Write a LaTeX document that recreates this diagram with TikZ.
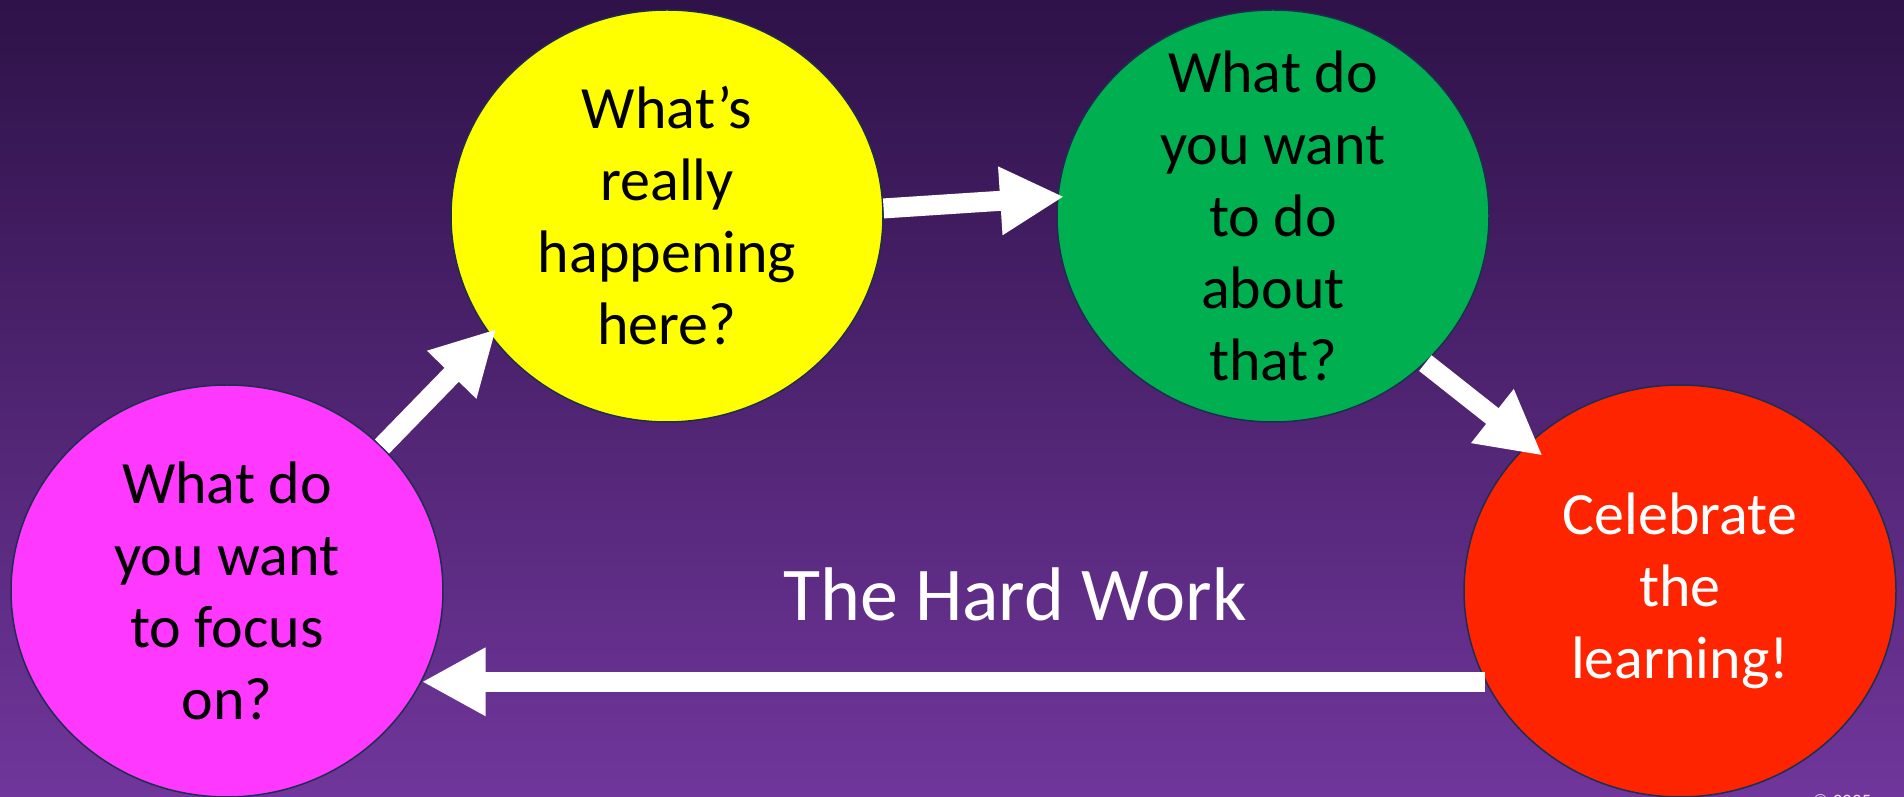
\documentclass[tikz,border=0pt]{standalone}
\usepackage{fontspec}
\setmainfont{Carlito}
\usetikzlibrary{shapes.geometric,arrows.meta}
\definecolor{bgtop}{RGB}{46,18,72}
\definecolor{bgbot}{RGB}{112,54,155}
\definecolor{cmag}{RGB}{255,56,255}
\definecolor{cyel}{RGB}{255,255,0}
\definecolor{cgrn}{RGB}{0,176,80}
\definecolor{cred}{RGB}{255,36,0}
\definecolor{rim}{RGB}{30,45,80}
\tikzset{
  bubble/.style={ellipse, draw=rim, line width=1.5pt, minimum width=432pt, minimum height=412pt, inner sep=0pt},
  bubtext/.style={align=center, inner sep=0pt, font=\fontsize{60}{72}\selectfont},
  bigarrow/.style={draw=white, line width=20pt, -{Triangle[length=64pt,width=64pt]}},
}
\begin{document}
\begin{tikzpicture}[x=1pt,y=1pt]
\useasboundingbox (0,0) rectangle (1904,797);
\shade[top color=bgtop, bottom color=bgbot] (0,0) rectangle (1904,797);

\node[bubble, fill=cmag] (mag) at (227,206) {};
\node[bubble, fill=cyel] (yel) at (667,581) {};
\node[bubble, fill=cgrn] (grn) at (1273,581) {};
\node[bubble, fill=cred] (red) at (1680,206) {};

\node[bubtext, text=black] (magT) at (mag.center) {What do\\you want\\to focus\\on?};
\node[bubtext, text=black] (yelT) at (yel.center) {What’s\\really\\happening\\here?};
\node[bubtext, text=black] (grnT) at (grn.center) {What do\\you want\\to do\\about\\that?};
\node[bubtext, text=white] (redT) at (red.center) {Celebrate\\the\\learning!};

\draw[bigarrow, shorten >=-9pt] (mag.43) -- (yel.214);
\draw[bigarrow, shorten >=-7pt] (yel.2) -- (grn.175);
\draw[bigarrow, shorten >=-19pt] (grn.-44) -- (red.136);
\draw[bigarrow] (red.205) -- (mag.-25);

\node[anchor=base, inner sep=0pt, text=white, font=\fontsize{76}{90}\selectfont] (hard) at (1015,176) {The Hard Work};
\node[anchor=north, inner sep=0pt, text=white!85!bgbot, font=\fontsize{19}{22}\selectfont] (copy) at (1842,3) {© 2025};
\end{tikzpicture}
\end{document}
